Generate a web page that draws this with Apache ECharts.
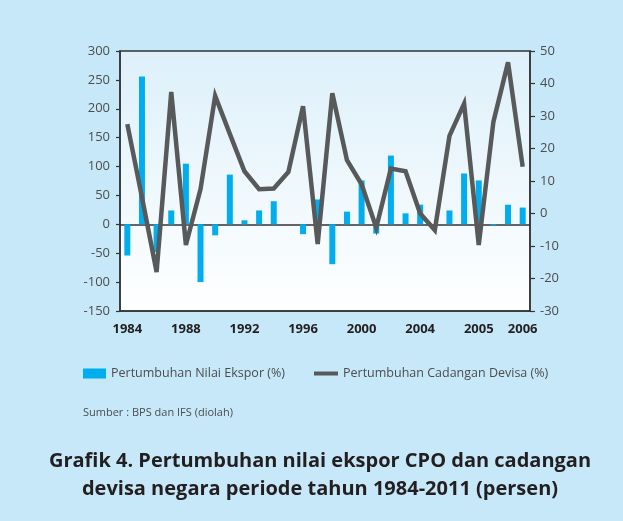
<!DOCTYPE html>
<html>
<head>
<meta charset="utf-8">
<script src="https://cdn.jsdelivr.net/npm/echarts@6/dist/echarts.min.js"></script>
<style>
  html, body { margin: 0; padding: 0; background: #c6e8f8; }
  #chart { width: 623px; height: 521px; }
</style>
</head>
<body>
<div id="chart"></div>
<script>
  // tahun 1984-2011
  var years = ['1984','1985','1986','1987','1988','1989','1990','1991','1992','1993',
               '1994','1995','1996','1997','1998','1999','2000','2001','2002','2003',
               '2004','2005','2006','2007','2008','2009','2010','2011'];
  // label sumbu x seperti di grafik asli
  var tickLabels = {0: '1984', 4: '1988', 8: '1992', 12: '1996', 16: '2000', 20: '2004', 24: '2005', 27: '2006'};

  // Pertumbuhan Nilai Ekspor (%) - sumbu kiri
  var eksporGrowth = [-54, 256, -48, 24, 105, -100, -19, 86, 7, 24,
                      40, 0, -17, 43, -69, 22, 76, -16, 119, 19,
                      34, 0, 24, 88, 76, -2, 34, 29];
  // Pertumbuhan Cadangan Devisa (%) - sumbu kanan
  var devisaGrowth = [27.5, 5, -18, 37.4, -9.7, 7.5, 36.2, 24.5, 13, 7.5,
                      7.7, 12.8, 33, -9.4, 37, 16.4, 9, -4.4, 13.8, 13,
                      0, -5.1, 23.9, 33.8, -9.7, 28.2, 46.5, 14.4];

  var leftTicks = {min: -150, max: 300, interval: 50};
  var rightTicks = {min: -30, max: 50, interval: 10};

  var axisColor = '#333333';
  var textColor = '#4d4d4f';
  var fontName = 'Open Sans';

  var chart = echarts.init(document.getElementById('chart'));

  var option = {
    backgroundColor: '#c6e8f8',
    animation: false,
    textStyle: { fontFamily: fontName },
    title: [{
      text: 'Grafik 4. Pertumbuhan nilai ekspor CPO dan cadangan\ndevisa negara periode tahun 1984-2011 (persen)',
      left: 320,
      top: 447,
      padding: 0,
      textAlign: 'center',
      textStyle: { fontSize: 20, fontWeight: 'bold', color: '#231f20', lineHeight: 28, fontFamily: fontName }
    }, {
      text: 'Sumber : BPS dan IFS (diolah)',
      left: 83,
      top: 407,
      padding: 0,
      textStyle: { fontSize: 11, fontWeight: 'normal', color: textColor, fontFamily: fontName }
    }],
    legend: [{
      left: 83, top: 367, padding: 0,
      icon: 'rect', itemWidth: 23, itemHeight: 10, itemGap: 10,
      data: ['Pertumbuhan Nilai Ekspor (%)'],
      textStyle: { fontSize: 12.5, color: textColor, fontFamily: fontName }
    }, {
      left: 314, top: 367, padding: 0,
      icon: 'rect', itemWidth: 24, itemHeight: 4,
      data: [{ name: 'Pertumbuhan Cadangan Devisa (%)', itemStyle: { color: '#58595b' } }],
      textStyle: { fontSize: 12.5, color: textColor, fontFamily: fontName }
    }],
    grid: {
      left: 120, top: 51, width: 410, height: 260,
      show: true,
      borderColor: axisColor,
      borderWidth: 1.5,
      backgroundColor: {
        type: 'linear', x: 0, y: 0, x2: 0, y2: 1,
        colorStops: [{ offset: 0, color: '#ddf0fa' }, { offset: 1, color: '#ffffff' }]
      }
    },
    xAxis: [{
      type: 'category',
      data: years,
      position: 'bottom',
      axisLine: { onZero: false, lineStyle: { color: axisColor, width: 1.5 } },
      axisTick: { interval: 0, length: 4, lineStyle: { color: axisColor, width: 1.2 } },
      axisLabel: {
        interval: 0,
        margin: 12,
        fontSize: 13,
        fontWeight: 'bold',
        color: '#231f20',
        formatter: function (v, i) { return tickLabels[i] || ''; }
      },
      splitLine: { show: false }
    }, {
      type: 'category',
      data: years,
      position: 'top',
      axisLine: { onZero: true, onZeroAxisIndex: 0, lineStyle: { color: axisColor, width: 1.5 } },
      axisTick: { interval: 0, inside: true, length: 4, lineStyle: { color: axisColor, width: 1.2 } },
      axisLabel: { show: false },
      splitLine: { show: false }
    }],
    yAxis: [{
      type: 'value',
      position: 'left',
      min: leftTicks.min, max: leftTicks.max, interval: leftTicks.interval,
      axisLine: { show: true, lineStyle: { color: axisColor, width: 1.5 } },
      axisTick: { show: true, length: 4, lineStyle: { color: axisColor, width: 1.2 } },
      axisLabel: { margin: 10, fontSize: 13, color: textColor },
      splitLine: { show: false }
    }, {
      type: 'value',
      position: 'right',
      min: rightTicks.min, max: rightTicks.max, interval: rightTicks.interval,
      axisLine: { show: true, lineStyle: { color: axisColor, width: 1.5 } },
      axisTick: { show: true, length: 5, lineStyle: { color: axisColor, width: 1.2 } },
      axisLabel: { margin: 10, fontSize: 13, color: textColor },
      splitLine: { show: false }
    }],
    series: [{
      name: 'Pertumbuhan Nilai Ekspor (%)',
      type: 'bar',
      xAxisIndex: 0,
      yAxisIndex: 0,
      barWidth: 6,
      itemStyle: { color: '#00aeef' },
      data: eksporGrowth
    }, {
      name: 'Pertumbuhan Cadangan Devisa (%)',
      type: 'line',
      xAxisIndex: 0,
      yAxisIndex: 1,
      symbol: 'none',
      z: 5,
      lineStyle: { color: '#58595b', width: 4.5, join: 'miter', miterLimit: 4 },
      itemStyle: { color: '#58595b' },
      data: devisaGrowth
    }]
  };

  chart.setOption(option);
</script>
</body>
</html>
